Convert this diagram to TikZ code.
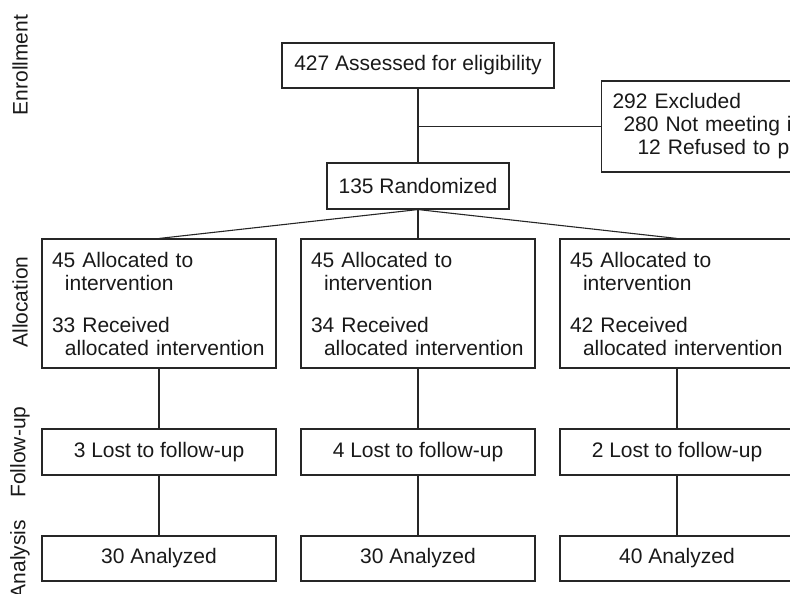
\documentclass[tikz,border=0pt]{standalone}
\usepackage{fontspec}
\setmainfont{Liberation Sans}
\tikzset{
	flowbox/.style={draw=black!85, line width=1.1pt, text=black!90, inner sep=0pt, minimum height=45pt, font=\fontsize{21}{23}\selectfont},
	listbox/.style={flowbox, align=left, inner xsep=10pt},
	stagelabel/.style={rotate=90, text=black!90, font=\fontsize{21}{23}\selectfont},
	link/.style={draw=black!85, line width=1.1pt}
}

\begin{document}
\begin{tikzpicture}[x=1pt, y=-1pt]
			%%%%% START %%%%%
			\clip (0, 0) rectangle (790, 594);
			
			\node[stagelabel] (enrollment) at (20, 65) {Enrollment};
			\node[stagelabel] (allocation) at (20, 302) {Allocation};
			\node[stagelabel] (followup) at (20, 452) {Follow-up};
			\node[stagelabel] (analysis) at (20, 559) {Analysis};
			
			\node[flowbox, minimum width=272pt] (assessed) at (418, 65.5) {427 Assessed for eligibility};
			\node[listbox, anchor=west, text width=230pt, inner xsep=11pt, minimum height=91pt] (excluded) at (601, 126.5)
				{292 Excluded\\\hspace*{11pt}280 Not meeting i\\\hspace*{25pt}12 Refused to pa};
			\node[flowbox, minimum width=182pt, minimum height=46pt] (randomized) at (418, 186) {135 Randomized};
			
			\node[listbox, text width=214pt, minimum height=129pt] (alloc1) at (159, 303.5)
				{45 Allocated to\\\hspace*{13pt}intervention\\[19pt]33 Received\\\hspace*{13pt}allocated intervention};
			\node[listbox, text width=214pt, minimum height=129pt] (alloc2) at (418, 303.5)
				{45 Allocated to\\\hspace*{13pt}intervention\\[19pt]34 Received\\\hspace*{13pt}allocated intervention};
			\node[listbox, text width=214pt, minimum height=129pt] (alloc3) at (677, 303.5)
				{45 Allocated to\\\hspace*{13pt}intervention\\[19pt]42 Received\\\hspace*{13pt}allocated intervention};
			
			\node[flowbox, minimum width=234pt, minimum height=46pt] (lost1) at (159, 452) {3 Lost to follow-up};
			\node[flowbox, minimum width=234pt, minimum height=46pt] (lost2) at (418, 452) {4 Lost to follow-up};
			\node[flowbox, minimum width=234pt, minimum height=46pt] (lost3) at (677, 452) {2 Lost to follow-up};
			
			\node[flowbox, minimum width=234pt] (analyzed1) at (159, 558.5) {30 Analyzed};
			\node[flowbox, minimum width=234pt] (analyzed2) at (418, 558.5) {30 Analyzed};
			\node[flowbox, minimum width=234pt] (analyzed3) at (677, 558.5) {40 Analyzed};
			
			\draw[link] (assessed) -- (randomized);
			\draw[link] (assessed.south |- excluded.west) -- (excluded.west);
			
			\draw[link] (randomized.south) -- (alloc1.north);
			\draw[link] (randomized.south) -- (alloc2.north);
			\draw[link] (randomized.south) -- (alloc3.north);
			
			\draw[link] (alloc1) -- (lost1) -- (analyzed1);
			\draw[link] (alloc2) -- (lost2) -- (analyzed2);
			\draw[link] (alloc3) -- (lost3) -- (analyzed3);
			
			%%%%% END %%%%%
		\end{tikzpicture}
\end{document}
